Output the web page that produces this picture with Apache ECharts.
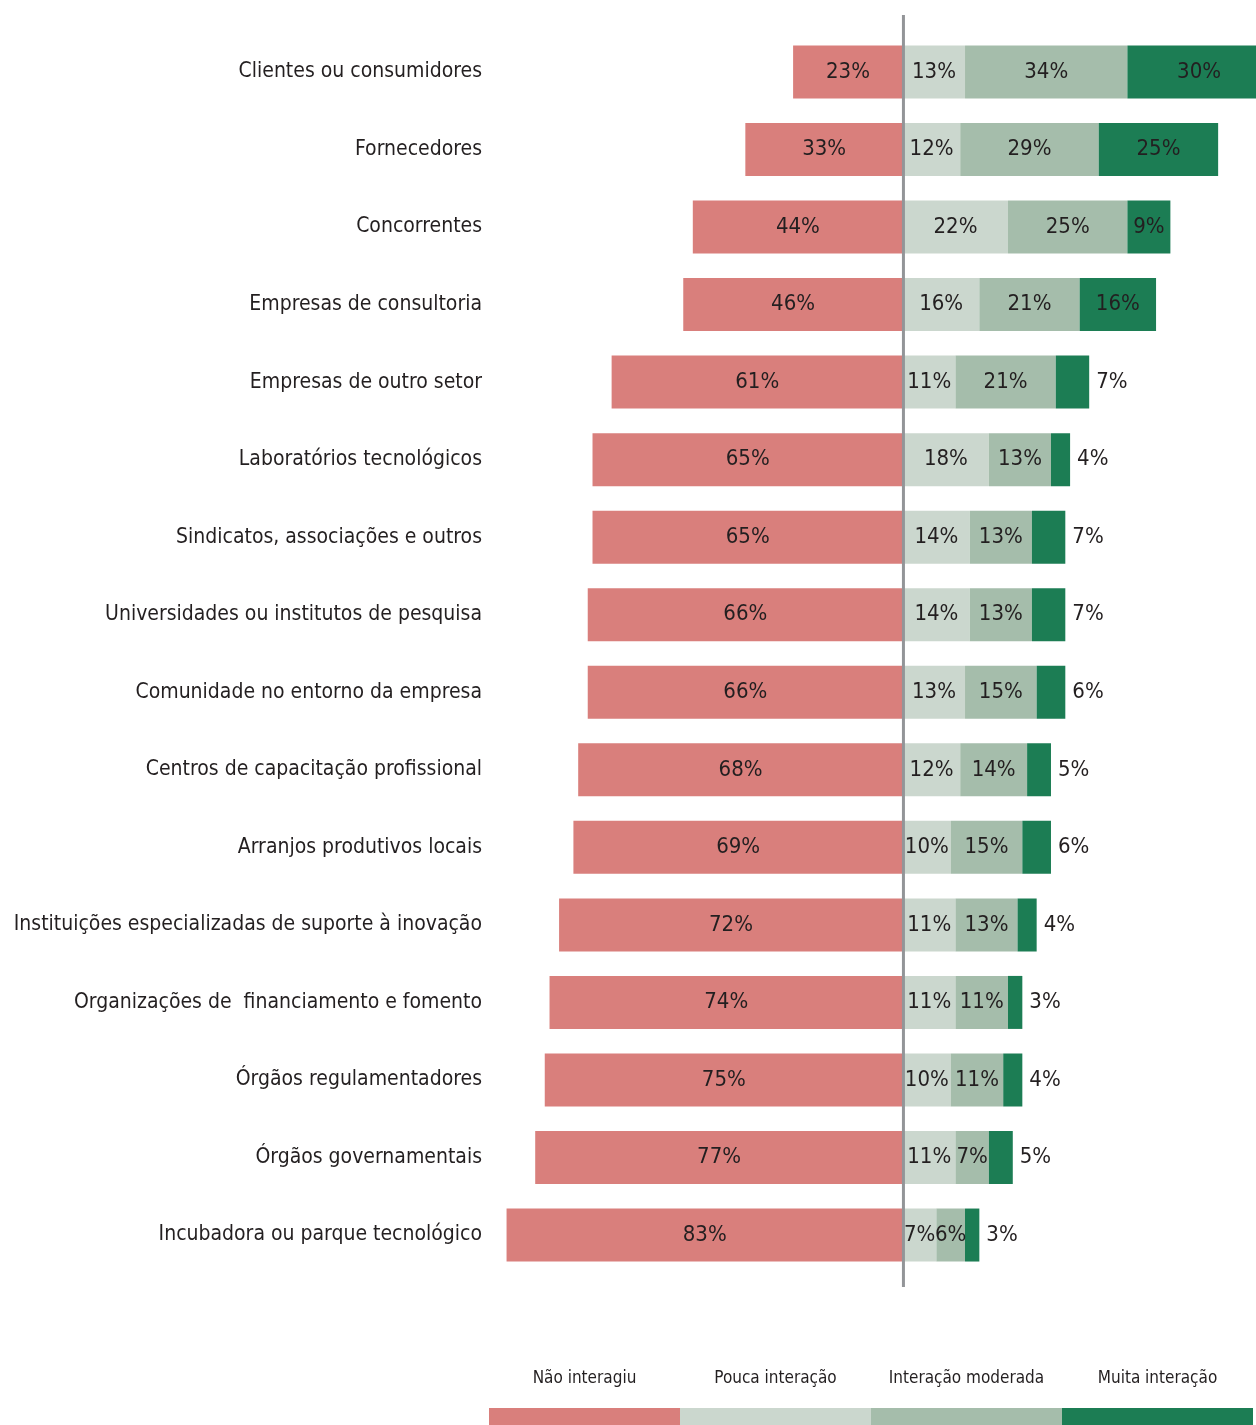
<!DOCTYPE html>
<html>
<head>
<meta charset="utf-8">
<script src="https://cdn.jsdelivr.net/npm/echarts@6/dist/echarts.min.js"></script>
<style>
html,body{margin:0;padding:0;background:#fff;}
#c{width:1256px;height:1425px;}
</style>
</head>
<body>
<div id="c"></div>
<script>
const categories = [
  'Clientes ou consumidores',
  'Fornecedores',
  'Concorrentes',
  'Empresas de consultoria',
  'Empresas de outro setor',
  'Laboratórios tecnológicos',
  'Sindicatos, associações e outros',
  'Universidades ou institutos de pesquisa',
  'Comunidade no entorno da empresa',
  'Centros de capacitação profissional',
  'Arranjos produtivos locais',
  'Instituições especializadas de suporte à inovação',
  'Organizações de  financiamento e fomento',
  'Órgãos regulamentadores',
  'Órgãos governamentais',
  'Incubadora ou parque tecnológico'
];
const seriesNames = ['Não interagiu', 'Pouca interação', 'Interação moderada', 'Muita interação'];
const naoInteragiu = [23, 33, 44, 46, 61, 65, 65, 66, 66, 68, 69, 72, 74, 75, 77, 83];
const poucaInteracao = [13, 12, 22, 16, 11, 18, 14, 14, 13, 12, 10, 11, 11, 10, 11, 7];
const interacaoModerada = [34, 29, 25, 21, 21, 13, 13, 13, 15, 14, 15, 13, 11, 11, 7, 6];
const muitaInteracao = [30, 25, 9, 16, 7, 4, 7, 7, 6, 5, 6, 4, 3, 4, 5, 3];

const colors = ['#d97f7c', '#cbd7ce', '#a5bdab', '#1c7d54'];
const FONT = "'Liberation Sans Narrow', 'DejaVu Sans Condensed', 'Roboto', sans-serif";
const TXT = '#231f20';

const chart = echarts.init(document.getElementById('c'), null, {renderer: 'canvas'});

const baseLabel = {
  show: true,
  position: 'inside',
  color: TXT,
  fontFamily: FONT,
  fontSize: 22,
  formatter: p => Math.abs(p.value) + '%'
};

const darkData = muitaInteracao.map(v => {
  if (v <= 7) {
    return {value: v, label: {position: 'right', distance: 7}};
  }
  return v;
});

const option = {
  animation: false,
  color: colors,
  grid: {left: 497, right: -29, top: 33.2, bottom: 151.2, containLabel: false, outerBoundsMode: 'none'},
  xAxis: {
    type: 'value', min: -85, max: 80,
    show: false, splitLine: {show: false}
  },
  yAxis: {
    type: 'category', data: categories, inverse: true,
    axisLine: {show: false}, axisTick: {show: false},
    axisLabel: {color: TXT, fontFamily: FONT, fontSize: 21, margin: 15}
  },
  legend: [0,1,2,3].map(i => ({
    data: [{name: seriesNames[i], icon: 'rect'}],
    left: 489 + i * 191, top: 1408, padding: 0,
    itemWidth: 191, itemHeight: 17, itemGap: 0,
    selectedMode: false,
    formatter: () => '',
    textStyle: {fontSize: 1, padding: 0}
  })),
  series: [
    {name: seriesNames[0], type: 'bar', stack: 'total', barWidth: 53,
     data: naoInteragiu.map(v => -v), label: baseLabel},
    {name: seriesNames[1], type: 'bar', stack: 'total', barWidth: 53,
     data: poucaInteracao, label: baseLabel},
    {name: seriesNames[2], type: 'bar', stack: 'total', barWidth: 53,
     data: interacaoModerada, label: baseLabel},
    {name: seriesNames[3], type: 'bar', stack: 'total', barWidth: 53,
     data: darkData, label: baseLabel}
  ]
};
chart.setOption(option);

const x0 = chart.convertToPixel({xAxisIndex: 0}, 0);
const yFirst = chart.convertToPixel({yAxisIndex: 0}, categories[0]);
const yLast = chart.convertToPixel({yAxisIndex: 0}, categories[categories.length - 1]);
const graphics = [{
  type: 'line', z: 10,
  shape: {x1: x0 + 0.5, y1: yFirst - 57, x2: x0 + 0.5, y2: yLast + 52},
  style: {stroke: '#939598', lineWidth: 3}
}];
seriesNames.forEach((n, i) => {
  graphics.push({
    type: 'text', x: 489 + i * 191 + 95.5, y: 1379, z: 10,
    style: {text: n, textAlign: 'center', textVerticalAlign: 'middle', fill: TXT, font: '17px ' + FONT}
  });
});
chart.setOption({graphic: graphics});
</script>
</body>
</html>
